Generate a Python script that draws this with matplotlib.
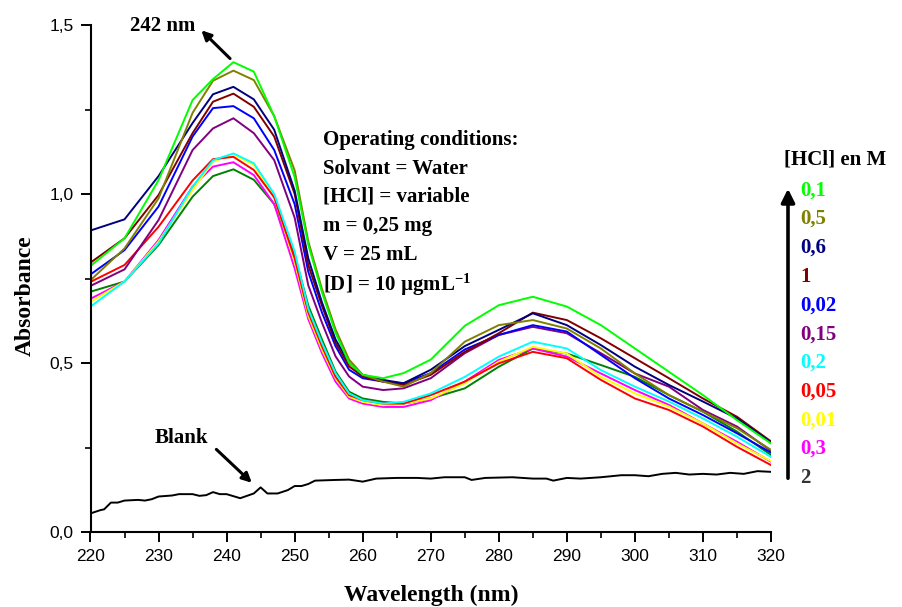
import matplotlib
matplotlib.use("Agg")
import matplotlib.pyplot as plt

plt.rcParams["mathtext.fontset"] = "custom"
plt.rcParams["mathtext.rm"] = "Liberation Serif:bold"
plt.rcParams["mathtext.it"] = "Liberation Serif:bold"
plt.rcParams["mathtext.bf"] = "Liberation Serif:bold"

# ---- data -----------------------------------------------------------------
wavelength = [220, 225, 230, 235, 238, 241, 244, 247, 250, 252, 254, 256, 258,
              260, 263, 266, 270, 275, 280, 285, 290, 295, 300, 305, 310, 315, 320]

hcl_labels = ["0,1", "0,5", "0,6", "1", "0,02", "0,15", "0,2", "0,05", "0,01", "0,3", "2"]

abs_01 = [0.787, 0.869, 1.041, 1.278, 1.34, 1.39, 1.362, 1.23, 1.05, 0.85, 0.71, 0.59, 0.50,
          0.465, 0.455, 0.47, 0.51, 0.61, 0.671, 0.696, 0.667, 0.612, 0.543, 0.474, 0.405, 0.331, 0.262]
abs_05 = [0.745, 0.839, 0.987, 1.24, 1.335, 1.365, 1.337, 1.23, 1.07, 0.86, 0.72, 0.60, 0.51,
          0.465, 0.445, 0.43, 0.47, 0.563, 0.612, 0.627, 0.602, 0.543, 0.469, 0.405, 0.356, 0.307, 0.243]
abs_06 = [0.892, 0.925, 1.053, 1.21, 1.295, 1.317, 1.28, 1.19, 1.01, 0.81, 0.68, 0.57, 0.50,
          0.465, 0.45, 0.44, 0.48, 0.55, 0.598, 0.647, 0.612, 0.553, 0.489, 0.435, 0.386, 0.336, 0.265]
abs_1 = [0.797, 0.869, 0.997, 1.18, 1.273, 1.297, 1.258, 1.17, 1.00, 0.79, 0.67, 0.56, 0.49,
         0.46, 0.445, 0.435, 0.465, 0.533, 0.588, 0.649, 0.627, 0.573, 0.514, 0.455, 0.395, 0.341, 0.268]
abs_002 = [0.762, 0.834, 0.963, 1.17, 1.254, 1.26, 1.224, 1.13, 0.97, 0.77, 0.65, 0.55, 0.48,
           0.455, 0.445, 0.44, 0.47, 0.54, 0.583, 0.612, 0.593, 0.524, 0.455, 0.395, 0.346, 0.292, 0.235]
abs_015 = [0.728, 0.777, 0.923, 1.13, 1.194, 1.224, 1.18, 1.10, 0.93, 0.73, 0.62, 0.52, 0.46,
           0.43, 0.42, 0.425, 0.455, 0.529, 0.583, 0.607, 0.588, 0.529, 0.469, 0.43, 0.361, 0.312, 0.24]
abs_02 = [0.667, 0.741, 0.854, 1.022, 1.10, 1.12, 1.091, 1.00, 0.83, 0.66, 0.56, 0.47, 0.41,
          0.39, 0.38, 0.385, 0.41, 0.459, 0.519, 0.563, 0.543, 0.479, 0.43, 0.386, 0.336, 0.282, 0.222]
abs_005 = [0.74, 0.79, 0.903, 1.04, 1.103, 1.11, 1.071, 0.99, 0.81, 0.65, 0.55, 0.46, 0.405,
           0.39, 0.38, 0.38, 0.405, 0.445, 0.499, 0.533, 0.514, 0.45, 0.395, 0.361, 0.312, 0.252, 0.198]
abs_001 = [0.681, 0.741, 0.859, 1.012, 1.096, 1.117, 1.086, 0.99, 0.80, 0.64, 0.54, 0.455, 0.40,
           0.385, 0.375, 0.38, 0.395, 0.44, 0.504, 0.548, 0.528, 0.459, 0.41, 0.371, 0.321, 0.262, 0.21]
abs_03 = [0.69, 0.741, 0.864, 1.022, 1.081, 1.094, 1.056, 0.97, 0.78, 0.63, 0.53, 0.445, 0.395,
          0.38, 0.37, 0.37, 0.39, 0.445, 0.509, 0.543, 0.519, 0.469, 0.42, 0.376, 0.321, 0.267, 0.208]
abs_2 = [0.711, 0.741, 0.849, 0.992, 1.053, 1.073, 1.042, 0.97, 0.82, 0.67, 0.57, 0.475, 0.415,
         0.395, 0.385, 0.38, 0.395, 0.425, 0.489, 0.543, 0.528, 0.494, 0.459, 0.405, 0.356, 0.297, 0.228]

blank_wl = [220, 221.5, 222, 223, 224, 225, 227, 228, 229, 230, 232, 233, 235, 236, 237, 238,
            239, 240, 242, 244, 245, 246, 247.5, 249, 250, 251, 252, 253, 256, 258, 260, 262,
            265, 268, 270, 272, 275, 276, 278, 282, 285, 287, 288, 290, 292, 295, 298, 300,
            302, 304, 306, 308, 310, 312, 314, 316, 318, 320]
blank_abs = [0.055, 0.065, 0.067, 0.087, 0.087, 0.093, 0.095, 0.093, 0.097, 0.105, 0.108, 0.112,
             0.112, 0.107, 0.109, 0.118, 0.112, 0.112, 0.100, 0.114, 0.132, 0.114, 0.114, 0.124,
             0.136, 0.136, 0.142, 0.152, 0.154, 0.155, 0.149, 0.158, 0.160, 0.160, 0.158, 0.162,
             0.162, 0.154, 0.160, 0.162, 0.158, 0.158, 0.152, 0.160, 0.158, 0.162, 0.168, 0.168,
             0.165, 0.172, 0.175, 0.170, 0.172, 0.170, 0.175, 0.172, 0.180, 0.178]

series = [abs_01, abs_05, abs_06, abs_1, abs_002, abs_015, abs_02, abs_005, abs_001, abs_03, abs_2]
curve_colors = ["#00FF00", "#808000", "#000080", "#800000", "#0000FF", "#800080",
                "#00FFFF", "#FF0000", "#FFFF00", "#FF00FF", "#008000"]
label_colors = curve_colors[:-1] + ["#333333"]

conditions = ["Operating conditions:", "Solvant = Water", "[HCl] = variable",
              "m = 0,25 mg", "V = 25 mL", r"[D] = 10 µgmL$^{-1}$"]

SERIF = "Liberation Serif"
SANS = "Liberation Sans"

W, H = 902, 607
fig = plt.figure(figsize=(W / 100, H / 100), dpi=100)
ax = fig.add_axes([90.5 / W, 1 - 532 / H, (771 - 90.5) / W, (532 - 25) / H])


def fx(px):
    return px / W


def fy(py):
    return 1 - py / H


# ---- curves ----------------------------------------------------------------
for vals, clr in reversed(list(zip(series, curve_colors))):
    ax.plot(wavelength, vals, color=clr, lw=1.4)
ax.plot(blank_wl, blank_abs, color="black", lw=1.4)

ax.set_xlim(220, 320)
ax.set_ylim(0, 1.5)
ax.set_xticks(range(220, 321, 10))
ax.set_xticks(range(225, 320, 10), minor=True)
ax.set_yticks([0, 0.5, 1.0, 1.5])
ax.set_yticks([0.25, 0.75, 1.25], minor=True)
ax.set_yticklabels(["0,0", "0,5", "1,0", "1,5"])

for s in ("top", "right"):
    ax.spines[s].set_visible(False)
for s in ("left", "bottom"):
    ax.spines[s].set_linewidth(1.5)
ax.tick_params(which="major", direction="out", length=7, width=1.4, pad=5)
ax.tick_params(which="minor", direction="out", length=4, width=1.2)
for lab in ax.get_xticklabels() + ax.get_yticklabels():
    lab.set_fontfamily(SANS)
    lab.set_fontsize(12.5)

# axis titles placed as free text (centre in pixels)
fig.text(fx(431), fy(595), "Wavelength (nm)", fontfamily=SERIF, fontweight="bold",
         fontsize=17, ha="center", va="center")
fig.text(fx(25), fy(296), "Absorbance", fontfamily=SERIF, fontweight="bold",
         fontsize=17, ha="center", va="center", rotation=90)

# ---- annotations -----------------------------------------------------------
ax.annotate("", xy=(236.0, 1.49), xytext=(240.8, 1.395),
            arrowprops=dict(arrowstyle="-|>", lw=2.2, color="black", mutation_scale=14))
fig.text(fx(130), fy(26), "242 nm", fontfamily=SERIF, fontweight="bold",
         fontsize=15, va="center", ha="left")

ax.annotate("", xy=(244.0, 0.14), xytext=(238.2, 0.25),
            arrowprops=dict(arrowstyle="-|>", lw=2.2, color="black", mutation_scale=14))
fig.text(fx(155), fy(438), "Blank", fontfamily=SERIF, fontweight="bold",
         fontsize=15, va="center", ha="left")

cond_y = [140, 169, 197, 226, 255, 285]
for txt, py in zip(conditions, cond_y):
    fig.text(fx(323), fy(py), txt, fontfamily=SERIF, fontweight="bold",
             fontsize=15, va="center", ha="left")

# ---- concentration key -----------------------------------------------------
fig.text(fx(784), fy(160), "[HCl] en M", fontfamily=SERIF, fontweight="bold",
         fontsize=15, va="center", ha="left")
key_y = [191, 219, 248, 277, 306, 335, 363, 392, 421, 449, 478]
for lab, clr, py in zip(hcl_labels, label_colors, key_y):
    fig.text(fx(800), fy(py), lab, fontfamily=SERIF, fontweight="bold",
             fontsize=15, va="center", ha="left", color=clr)

ax.annotate("", xy=(fx(788), fy(186)), xytext=(fx(788), fy(481)),
            xycoords="figure fraction", textcoords="figure fraction",
            arrowprops=dict(arrowstyle="-|>", lw=2.6, color="black", mutation_scale=20))

fig.savefig("out.png", dpi=100, facecolor="white")
